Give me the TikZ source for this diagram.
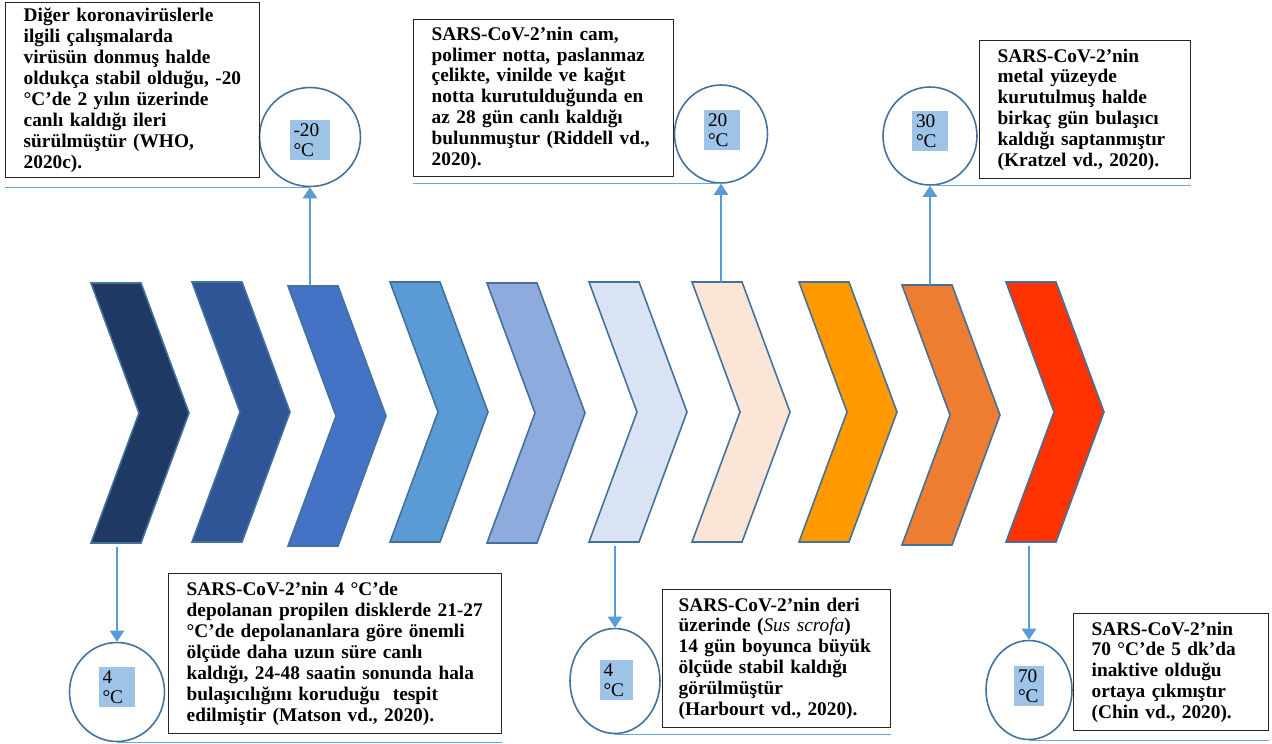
\documentclass[tikz,border=0pt]{standalone}
\usepackage{fontspec}
\setmainfont{Liberation Serif}
\usetikzlibrary{shapes.geometric,arrows.meta,calc}

\definecolor{chA}{HTML}{1F3864}
\definecolor{chB}{HTML}{2F5597}
\definecolor{chC}{HTML}{4472C4}
\definecolor{chD}{HTML}{5B9BD5}
\definecolor{chE}{HTML}{8FAADC}
\definecolor{chF}{HTML}{DAE3F3}
\definecolor{chG}{HTML}{FBE5D6}
\definecolor{chH}{HTML}{FF9900}
\definecolor{chI}{HTML}{ED7D31}
\definecolor{chJ}{HTML}{FF3300}
\definecolor{chline}{HTML}{41719C}
\definecolor{degfill}{HTML}{9DC3E6}
\definecolor{linkblue}{HTML}{5B9BD5}

\begin{document}
\begin{tikzpicture}[x=0.02cm,y=-0.02cm,
    chev/.style={draw=chline,line width=0.9pt,line join=miter},
    ring/.style={draw=chline,line width=0.9pt,ellipse,inner sep=0pt},
    deg/.style={fill=degfill,align=left,inner xsep=0.08cm,inner ysep=0.07cm,
        font=\fontsize{11}{11.4}\selectfont},
    note/.style={draw=black!85,line width=0.8pt,anchor=north west,align=left,
        inner xsep=0.36cm,inner ysep=0pt,font=\bfseries\fontsize{11}{11.9}\selectfont},
    link/.style={draw=linkblue,line width=1.3pt,-{Triangle[length=0.22cm,width=0.28cm]}},
    rule/.style={draw=linkblue!90,line width=0.8pt}]
    \useasboundingbox (0,0) rectangle (1272,744);

    % chevrons
    \draw[chev,fill=chA] (91,283) coordinate (ch1) -- ++(50,0) -- ++(48,130) -- ++(-48,130) -- ++(-50,0) coordinate (ch1b) -- ++(48,-130) -- cycle;
    \draw[chev,fill=chB] (192,282) coordinate (ch2) -- ++(50,0) -- ++(48,130) -- ++(-48,130) -- ++(-50,0) coordinate (ch2b) -- ++(48,-130) -- cycle;
    \draw[chev,fill=chC] (288,286) coordinate (ch3) -- ++(50,0) -- ++(48,130) -- ++(-48,130) -- ++(-50,0) coordinate (ch3b) -- ++(48,-130) -- cycle;
    \draw[chev,fill=chD] (390,282) coordinate (ch4) -- ++(50,0) -- ++(48,130) -- ++(-48,130) -- ++(-50,0) coordinate (ch4b) -- ++(48,-130) -- cycle;
    \draw[chev,fill=chE] (487,283) coordinate (ch5) -- ++(50,0) -- ++(48,130) -- ++(-48,130) -- ++(-50,0) coordinate (ch5b) -- ++(48,-130) -- cycle;
    \draw[chev,fill=chF] (589,282) coordinate (ch6) -- ++(50,0) -- ++(48,130) -- ++(-48,130) -- ++(-50,0) coordinate (ch6b) -- ++(48,-130) -- cycle;
    \draw[chev,fill=chG] (692,282) coordinate (ch7) -- ++(50,0) -- ++(48,130) -- ++(-48,130) -- ++(-50,0) coordinate (ch7b) -- ++(48,-130) -- cycle;
    \draw[chev,fill=chH] (799,282) coordinate (ch8) -- ++(50,0) -- ++(48,130) -- ++(-48,130) -- ++(-50,0) coordinate (ch8b) -- ++(48,-130) -- cycle;
    \draw[chev,fill=chI] (902,285) coordinate (ch9) -- ++(50,0) -- ++(48,130) -- ++(-48,130) -- ++(-50,0) coordinate (ch9b) -- ++(48,-130) -- cycle;
    \draw[chev,fill=chJ] (1006,282) coordinate (ch10) -- ++(50,0) -- ++(48,130) -- ++(-48,130) -- ++(-50,0) coordinate (ch10b) -- ++(48,-130) -- cycle;

    % temperatures
    \node[ring,minimum width=2.02cm,minimum height=1.98cm] (r1) at (310,137) {};
    \node[deg,text width=0.66cm] (d1) at (310,140) {-20\\°C};
    \node[ring,minimum width=1.86cm,minimum height=1.96cm] (r2) at (721,134) {};
    \node[deg,text width=0.56cm] (d2) at (722,130) {20\\°C};
    \node[ring,minimum width=1.88cm,minimum height=1.96cm] (r3) at (930,136) {};
    \node[deg,text width=0.56cm] (d3) at (930,131) {30\\°C};
    \node[ring,minimum width=1.9cm,minimum height=1.98cm] (r4) at (117,692) {};
    \node[deg,text width=0.58cm] (d4) at (117,687) {4\\°C};
    \node[ring,minimum width=1.8cm,minimum height=2.1cm] (r5) at (615,681) {};
    \node[deg,text width=0.5cm] (d5) at (616,680) {4\\°C};
    \node[ring,minimum width=1.72cm,minimum height=1.98cm] (r6) at (1029,690) {};
    \node[deg,text width=0.44cm] (d6) at (1029,686) {70\\°C};

    % notes
    \node[note,text width=4.36cm,minimum height=3.5cm] (b1) at (5,2)
        {Diğer koronavirüslerle\\ilgili çalışmalarda\\virüsün donmuş halde\\oldukça stabil olduğu, -20\\°C’de 2 yılın üzerinde\\canlı kaldığı ileri\\sürülmüştür (WHO,\\2020c).};
    \node[note,text width=4.48cm,minimum height=3.14cm] (b2) at (413,19)
        {SARS-CoV-2’nin cam,\\polimer notta, paslanmaz\\çelikte, vinilde ve kağıt\\notta kurutulduğunda en\\az 28 gün canlı kaldığı\\bulunmuştur (Riddell vd.,\\2020).};
    \node[note,text width=3.5cm,minimum height=2.76cm] (b3) at (979,40)
        {SARS-CoV-2’nin\\metal yüzeyde\\kurutulmuş halde\\birkaç gün bulaşıcı\\kaldığı saptanmıştır\\(Kratzel vd., 2020).};
    \node[note,text width=5.94cm,minimum height=3.2cm] (b4) at (168,573)
        {SARS-CoV-2’nin 4 °C’de\\depolanan propilen disklerde 21-27\\°C’de depolananlara göre önemli\\ölçüde daha uzun süre canlı\\kaldığı, 24-48 saatin sonunda hala\\bulaşıcılığını koruduğu\ \ tespit\\edilmiştir (Matson vd., 2020).};
    \node[note,inner xsep=0.32cm,text width=3.92cm,minimum height=2.76cm] (b5) at (662,589)
        {SARS-CoV-2’nin deri\\üzerinde ({\mdseries\itshape Sus scrofa})\\14 gün boyunca büyük\\ölçüde stabil kaldığı\\görülmüştür\\(Harbourt vd., 2020).};
    \node[note,text width=3.18cm,minimum height=2.34cm] (b6) at (1073,613)
        {SARS-CoV-2’nin\\70 °C’de 5 dk’da\\inaktive olduğu\\ortaya çıkmıştır\\(Chin vd., 2020).};

    % rules under the notes
    \draw[rule] (r1.south) -- (r1.south -| b1.west);
    \draw[rule] (r2.south) -- (r2.south -| b2.west);
    \draw[rule] (r3.south) -- (r3.south -| b3.east);
    \draw[rule] (r4.south) -- (r4.south -| b4.east);
    \draw[rule] (r5.south) -- (r5.south -| b5.east);
    \draw[rule] (r6.south) -- (r6.south -| b6.east);

    % arrows to the temperatures
    \draw[link] (r1.south |- ch3) -- (r1.south);
    \draw[link] (r2.south |- ch7) -- (r2.south);
    \draw[link] (r3.south |- ch9) -- (r3.south);
    \draw[link] ($(r4.north |- ch1b)+(0,4)$) -- (r4.north);
    \draw[link] ($(r5.north |- ch6b)+(0,4)$) -- (r5.north);
    \draw[link] ($(r6.north |- ch10b)+(0,4)$) -- (r6.north);
\end{tikzpicture}
\end{document}
